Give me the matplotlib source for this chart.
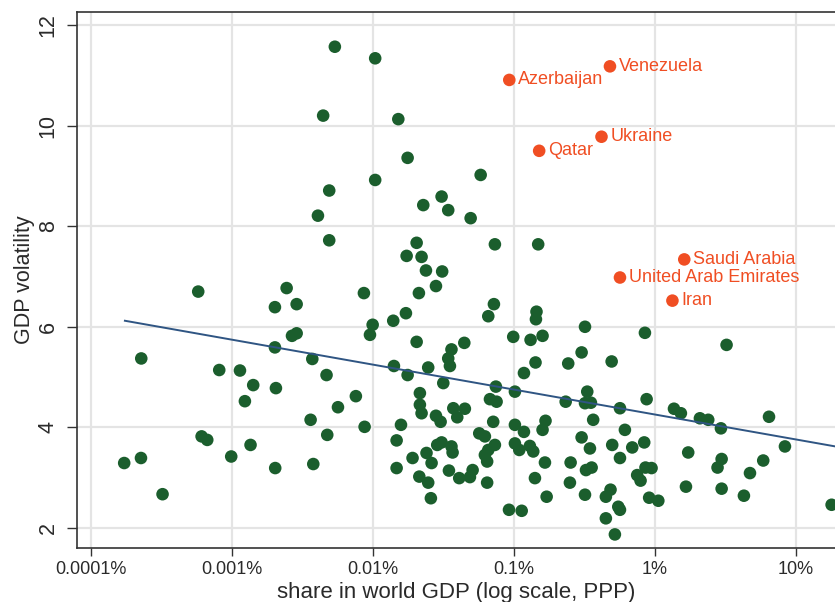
import numpy as np
import matplotlib
matplotlib.use("Agg")
from matplotlib import pyplot as plt

plt.rcParams['font.family'] = ['Liberation Sans', 'DejaVu Sans']

# log10 of share in world GDP (in percent)
log_share = [
    -2.270, -1.984, -2.353, -1.820, -1.754, -1.984, -2.310, -2.390, -2.310, -1.761,
    -3.239, -2.612, -2.064, -2.695, -2.541, -1.856, -1.766, -2.002, -2.021, -1.690,
    -2.574, -2.541, -2.695, -2.430, -3.643, -3.090, -2.943, -2.329, -1.851, -1.754,
    -2.849, -2.688, -2.908, -2.121, -2.248, -2.442, -2.059, -1.801, -3.215, -3.175,
    -2.324, -1.832, -2.868, -3.764, -3.645, -3.005, -2.693, -2.423, -1.832, -1.719,
    -3.492,
    -1.236, -1.513, -1.643, -1.466, -1.307, -1.690, -1.655, -1.624, -1.509, -1.135,
    -0.828, -1.553, -1.674,
    -1.142, -1.182, -0.840, -0.844, -0.496, -0.071, 0.508, -1.443, -1.352, -1.466,
    -1.454, -1.608, -1.005, -0.882, -0.797, -0.520, -0.615, -0.847, -0.307, -0.929,
    -1.501, -1.128, -0.993, -1.667, -1.667, -1.655, -1.553, -1.520, -1.430, -1.348,
    -1.402, -1.170, -1.123, -1.147, -0.993, -0.929, -0.776, -0.797, -0.633, -0.480,
    -0.496, -0.454, -0.438, -0.248, -0.059, 0.135, 0.184, 0.319, 0.378, 0.468,
    0.809, -0.213, -0.520, -0.461, -0.303, -0.161, -0.076, -0.248, -1.246, -1.206,
    -0.993, -0.962, -0.887, -0.863, -1.135, -1.182, -1.206, -1.190, -1.443, -1.435,
    -1.544, -1.513, -1.620, -1.584, -1.671, -1.608, -1.589, -1.461, -1.388, -1.312,
    -1.293, -1.190, -1.035, -0.945, -0.851, -0.780, -0.768, -0.598, -0.603, -0.496,
    -0.489, -0.449, -0.348, -0.315, -0.348, -0.260, -0.248, -0.284, -0.126, -0.102,
    -0.067, -0.024, -0.041, 0.024, 0.236, 0.220, 0.473, 0.444, 0.473, 0.674,
    0.768, 0.631, 0.922, 1.253,
]
volatility = [
    11.57, 11.34, 10.20, 10.13, 9.36, 8.92, 8.71, 8.21, 7.72, 7.41,
    6.70, 6.77, 6.67, 6.39, 6.45, 6.12, 6.27, 6.04, 5.84, 5.70,
    5.82, 5.87, 5.59, 5.36, 5.37, 5.14, 5.13, 5.04, 5.22, 5.04,
    4.84, 4.78, 4.52, 4.62, 4.40, 4.15, 4.01, 4.05, 3.82, 3.75,
    3.85, 3.74, 3.65, 3.29, 3.39, 3.42, 3.19, 3.27, 3.19, 3.39,
    2.67,
    9.02, 8.59, 8.42, 8.32, 8.16, 7.67, 7.39, 7.12, 7.10, 7.64,
    7.64, 6.81, 6.67,
    6.45, 6.21, 6.30, 6.15, 6.00, 5.88, 5.64, 5.55, 5.68, 5.37,
    5.22, 5.19, 5.80, 5.74, 5.82, 5.49, 5.27, 5.29, 5.31, 5.08,
    4.88, 4.81, 4.71, 4.68, 4.45, 4.28, 4.23, 4.11, 4.38, 4.37,
    4.20, 4.56, 4.51, 4.11, 4.05, 3.91, 4.13, 3.95, 4.51, 4.71,
    4.48, 4.49, 4.15, 4.38, 4.56, 4.37, 4.28, 4.18, 4.15, 3.98,
    4.21, 3.95, 3.80, 3.58, 3.65, 3.60, 3.70, 3.39, 3.88, 3.82,
    3.68, 3.55, 3.63, 3.52, 3.65, 3.55, 3.45, 3.32, 3.62, 3.50,
    3.65, 3.70, 3.49, 3.29, 3.02, 2.90, 2.59, 3.14, 2.99, 3.01,
    3.15, 2.90, 2.36, 2.34, 2.99, 3.30, 2.62, 3.30, 2.90, 2.66,
    3.15, 3.20, 2.62, 2.76, 2.19, 2.42, 2.36, 1.87, 3.05, 2.94,
    3.20, 3.19, 2.60, 2.54, 3.50, 2.82, 3.37, 3.20, 2.78, 3.09,
    3.34, 2.64, 3.62, 2.46,
]

# highlighted countries
oil_names = ['Venezuela', 'Azerbaijan', 'Ukraine', 'Qatar',
             'Saudi Arabia', 'United Arab Emirates', 'Iran']
oil_log_share = [-0.319, -1.033, -0.379, -0.821, 0.208, -0.248, 0.124]
oil_volatility = [11.18, 10.91, 9.78, 9.50, 7.34, 6.98, 6.52]

# fitted line end points
fit_log_share = [-3.759, 1.30]
fit_volatility = [6.12, 3.61]

tick_pos = [1e-4, 1e-3, 1e-2, 1e-1, 1, 10]
tick_labels = ['0.0001%', '0.001%', '0.01%', '0.1%', '1%', '10%']

green = '#1b5e2d'
red = '#f04e23'
navy = '#2f5583'

fig = plt.figure(figsize=(8.35, 6.02), dpi=100)
ax = fig.add_axes([0.092, 0.0897, 0.908, 0.8903])

share = 10 ** np.array(log_share)
oil_share = 10 ** np.array(oil_log_share)

ax.scatter(share, volatility, s=82, color=green, edgecolors='none', zorder=3)
ax.plot(10 ** np.array(fit_log_share), fit_volatility, color=navy, lw=1.4, zorder=4)
ax.scatter(oil_share, oil_volatility, s=82, color=red, edgecolors='none', zorder=5)
for name, xs, ys in zip(oil_names, oil_share, oil_volatility):
    ax.annotate(name, (xs, ys), xytext=(6.5, 0), textcoords='offset points',
                va='center', ha='left', color=red, fontsize=13)

ax.set_xscale('log')
ax.set_xlim(10 ** -4.1, 10 ** 1.277)
ax.set_ylim(1.6, 12.26)
ax.set_xticks(tick_pos)
ax.set_xticklabels(tick_labels)
ax.minorticks_off()
ax.set_yticks([2, 4, 6, 8, 10, 12])
for lab in ax.get_yticklabels():
    lab.set_rotation(90)
    lab.set_va('center')

ax.grid(True, color='#e4e4e4', lw=1.6, zorder=0)
ax.set_axisbelow(True)
ax.spines['right'].set_visible(False)
for sp in ['left', 'bottom', 'top']:
    ax.spines[sp].set_color('#333333')
    ax.spines[sp].set_linewidth(1.2)
ax.tick_params(direction='out', width=1, color='#333333', labelcolor='#2a2a2a')
ax.tick_params(axis='x', length=6, pad=3, labelsize=13)
ax.tick_params(axis='y', length=7, pad=6, labelsize=15.5)
ax.set_xlabel('share in world GDP (log scale, PPP)', fontsize=16, color='#2a2a2a', labelpad=3)
ax.set_ylabel('GDP volatility', fontsize=15.5, color='#2a2a2a', labelpad=2)

fig.savefig('out.png', dpi=100)
